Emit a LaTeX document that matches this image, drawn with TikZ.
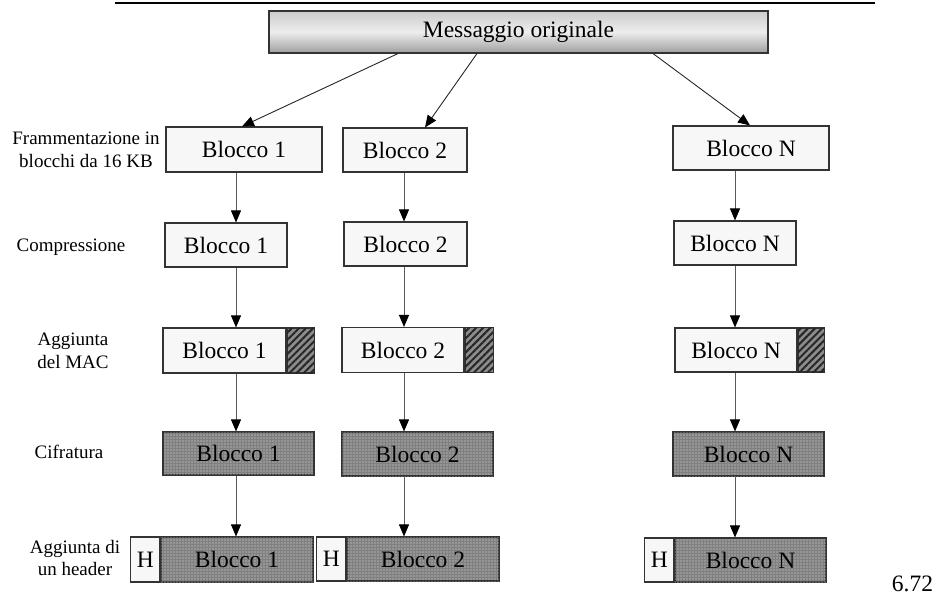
\documentclass[tikz,border=0pt]{standalone}
\usepackage{fontspec}
\setmainfont{Liberation Serif}
\usetikzlibrary{arrows.meta}
\usetikzlibrary{patterns.meta}

\begin{document}
\begin{tikzpicture}[x=1pt,y=1pt]
  \tikzset{blk/.style = {shape=rectangle,draw=black!80,line width=1.1pt,fill=black!3,inner sep=0pt,minimum height=44pt,font=\fontsize{23.5}{27}\selectfont}}
  \tikzset{enc/.style = {blk,fill=black!50,postaction={pattern={Dots[radius=0.7pt,distance=3pt]},pattern color=black!12}}}
  \tikzset{hatch/.style = {blk,fill=black!45,postaction={pattern={Lines[angle=45,distance=5pt,line width=2pt]},pattern color=black!85}}}
  \tikzset{lbl/.style = {align=center,inner sep=0pt,font=\fontsize{19}{22.5}\selectfont}}
  \tikzset{edge/.style = {-{Triangle[length=12pt,width=10pt,color=black]},line width=0.9pt,draw=black!65}}
  \useasboundingbox (0,0) rectangle (939,606);

  \draw[line width=2.2pt] (115,603) -- (875,603);
  \node[blk,minimum width=499pt,minimum height=42pt,top color=black!20,bottom color=black!38,middle color=black!7] (msg) at (518.5,574) {Messaggio originale};

  % frammentazione
  \node[blk,minimum width=156pt,minimum height=45pt] (fr1) at (244,456.5) {Blocco 1};
  \node[blk,minimum width=124pt] (fr2) at (405,456) {Blocco 2};
  \node[blk,minimum width=156pt] (frN) at (751,458) {Blocco N};

  % compressione
  \node[blk,minimum width=122pt] (co1) at (226,361) {Blocco 1};
  \node[blk,minimum width=123pt] (co2) at (405.5,362) {Blocco 2};
  \node[blk,minimum width=122pt] (coN) at (735,363) {Blocco N};

  % MAC
  \node[blk,minimum width=123pt,minimum height=45pt] (ma1) at (224.5,255.5) {Blocco 1};
  \node[hatch,minimum width=27pt,minimum height=45pt,anchor=west] (mh1) at (ma1.east) {};
  \node[blk,minimum width=122pt,minimum height=45pt] (ma2) at (403,256) {Blocco 2};
  \node[hatch,minimum width=28pt,minimum height=45pt,anchor=west] (mh2) at (ma2.east) {};
  \node[blk,minimum width=122pt] (maN) at (736,256) {Blocco N};
  \node[hatch,minimum width=26pt,anchor=west] (mhN) at (maN.east) {};

  % cifratura
  \node[enc,minimum width=151pt,minimum height=43pt] (ci1) at (238.5,152.5) {Blocco 1};
  \node[enc,minimum width=151pt] (ci2) at (417.5,152) {Blocco 2};
  \node[enc,minimum width=151pt] (ciN) at (748.5,152) {Blocco N};

  % header
  \node[enc,minimum width=152pt,minimum height=45pt] (he1) at (237,46.5) {Blocco 1};
  \node[blk,minimum width=29pt,minimum height=45pt,anchor=east] (hh1) at (he1.west) {H};
  \node[enc,minimum width=152pt] (he2) at (423,47) {Blocco 2};
  \node[blk,minimum width=29pt,anchor=east] (hh2) at (he2.west) {H};
  \node[enc,minimum width=151pt] (heN) at (750.5,46) {Blocco N};
  \node[blk,minimum width=29pt,anchor=east] (hhN) at (heN.west) {H};

  % labels
  \node[lbl] (l1) at (86,456) {Frammentazione in\\blocchi da 16 KB};
  \node[lbl] (l2) at (71,359) {Compressione};
  \node[lbl] (l3) at (73,255) {Aggiunta\\del MAC};
  \node[lbl] (l4) at (69,154) {Cifratura};
  \node[lbl] (l5) at (75,48) {Aggiunta di\\un header};
  \node[font=\fontsize{23.5}{27}\selectfont] (num) at (912.5,22) {6.72};

  \coordinate (k1) at (236,0);
  \coordinate (k2) at (404,0);
  \coordinate (kN) at (735,0);

  \foreach \dx/\to/\ex in {-120.5/fr1/-2, -41.5/fr2/20, 134.5/frN/-1}
    \draw[edge,draw=black!85] ([xshift=\dx pt]msg.south) -- ([xshift=\ex pt]\to.north);

  \foreach \from/\to/\k in {fr1/co1/k1, co1/ma1/k1, ma1/ci1/k1, ci1/he1/k1,
                            fr2/co2/k2, co2/ma2/k2, ma2/ci2/k2, ci2/he2/k2,
                            frN/coN/kN, coN/maN/kN, maN/ciN/kN, ciN/heN/kN}
    \draw[edge] (\from.south -| \k) -- (\to.north -| \k);
\end{tikzpicture}
\end{document}
